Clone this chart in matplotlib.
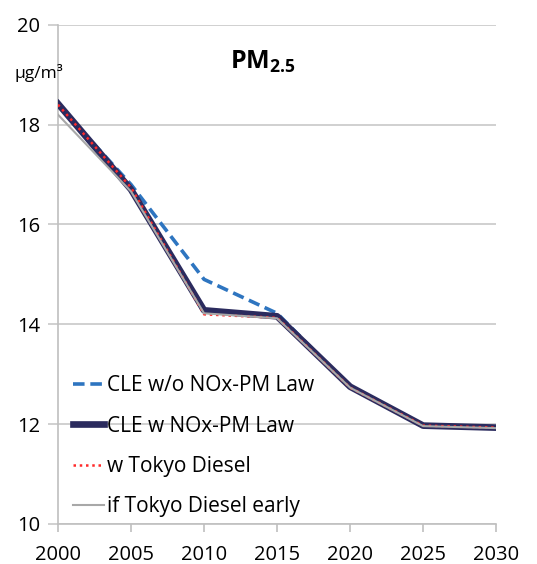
import matplotlib
matplotlib.use("Agg")
import matplotlib.pyplot as plt

years = [2000, 2005, 2010, 2015, 2020, 2025, 2030]
cle_wo_law = [18.40, 16.80, 14.90, 14.22, 12.75, 11.97, 11.93]
cle_w_law = [18.42, 16.70, 14.28, 14.16, 12.75, 11.97, 11.93]
tokyo_diesel = [18.40, 16.74, 14.20, 14.13, 12.73, 11.97, 11.93]
tokyo_early = [18.20, 16.66, 14.22, 14.12, 12.73, 11.96, 11.92]
yticks = [10, 12, 14, 16, 18, 20]

plt.rcParams['font.family'] = ['Open Sans', 'DejaVu Sans']
plt.rcParams['mathtext.fontset'] = 'custom'
plt.rcParams['mathtext.bf'] = 'Open Sans:bold'
plt.rcParams['mathtext.rm'] = 'Open Sans'

fig = plt.figure(figsize=(5.37, 5.64), dpi=100)
ax = fig.add_axes([0.108, 0.071, 0.816, 0.885])

ax.plot(years, cle_wo_law, color='#2e75c0', lw=2.6, ls=(0, (3.2, 1.6)),
        label='CLE w/o NOx-PM Law', zorder=3)
ax.plot(years, cle_w_law, color='#2b2b5e', lw=4.8, label='CLE w NOx-PM Law', zorder=4)
ax.plot(years, tokyo_diesel, color='#ff2a2a', lw=1.8, ls=(0, (1, 1.5)),
        label='w Tokyo Diesel', zorder=5)
ax.plot(years, tokyo_early, color='#a8a8a8', lw=1.5, label='if Tokyo Diesel early', zorder=6)

ax.set_xlim(2000, 2030)
ax.set_ylim(10, 20)
ax.set_xticks(years)
ax.set_yticks(yticks)
ax.grid(axis='y', color='#c8c8c8', lw=1.2)
ax.set_axisbelow(True)
for s in ['top', 'right']:
    ax.spines[s].set_visible(False)
for s in ['left', 'bottom']:
    ax.spines[s].set_color('#bfbfbf')
    ax.spines[s].set_linewidth(1.2)
ax.tick_params(axis='y', length=7, color='#c8c8c8', width=1.2, labelsize=14.5, pad=6)
ax.tick_params(axis='x', length=6, color='#bfbfbf', width=1.2, labelsize=14.5, pad=9)

ax.text(0.468, 0.925, r'$\mathbf{PM_{2.5}}$', transform=ax.transAxes, ha='center',
        va='center', fontsize=18)
fig.text(0.027, 0.87, 'µg/m³', fontsize=12.5, ha='left', va='center')

leg = ax.legend(loc='lower left', bbox_to_anchor=(0.0, -0.016), frameon=False,
                fontsize=15, handlelength=1.5, handletextpad=0.15,
                labelspacing=0.93, borderaxespad=0.3)

fig.savefig('out.png', dpi=100)
